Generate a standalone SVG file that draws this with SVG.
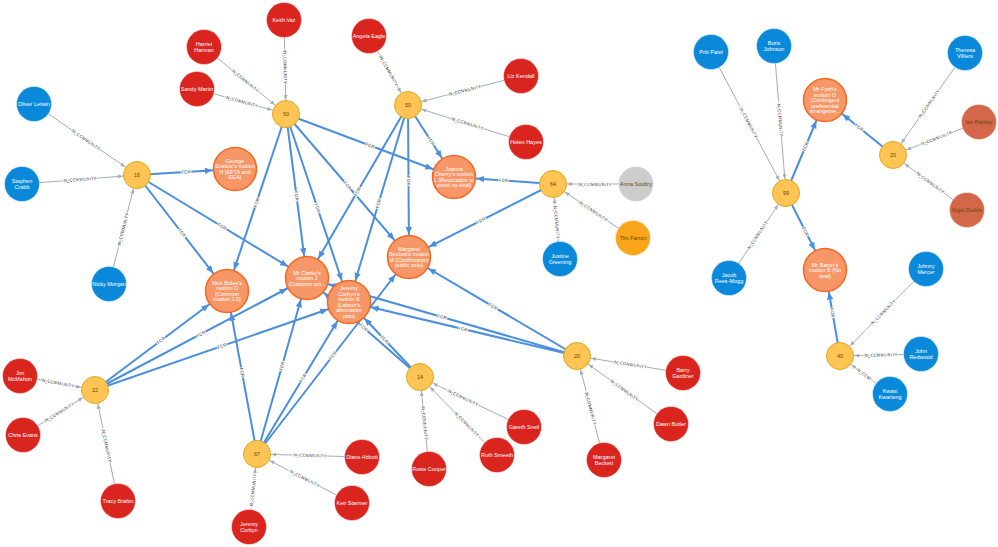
<svg xmlns="http://www.w3.org/2000/svg" xmlns:xlink="http://www.w3.org/1999/xlink" width="998" height="547" viewBox="0 0 998 547">
<style>
text{font-family:"Liberation Sans",Arial,sans-serif;}
.node text{font-size:5.5px;text-anchor:middle;fill:#fff;}
.node.dk text{fill:#604A0E;}
.red circle{fill:#DA251F;stroke:#fff;stroke-opacity:.4;stroke-width:1;}
.blue circle{fill:#0A88DA;stroke:#fff;stroke-opacity:.4;stroke-width:1;}
.lib circle{fill:#FAA61A;stroke:#fff;stroke-opacity:.4;stroke-width:1;}
.ind circle{fill:#CCCCCC;stroke:#fff;stroke-opacity:.4;stroke-width:1;}
.dup circle{fill:#D4674A;stroke:#fff;stroke-opacity:.4;stroke-width:1;}
.com circle{fill:#FFC454;stroke:#E0A91B;stroke-width:1;}
.mot circle{fill:#F79767;stroke:#F36924;stroke-width:1.5;}
.ic{stroke:#A5ABB6;stroke-width:1;fill:none;}
.fr{stroke:#4A8FDD;stroke-width:2;fill:none;}
.ic.s{marker-start:url(#aic);} .ic.e{marker-end:url(#aic);}
.fr.s{marker-start:url(#afr);} .fr.e{marker-end:url(#afr);}
.cap{font-size:4.4px;fill:#2A2C34;text-anchor:middle;stroke:#fff;stroke-width:1.8;paint-order:stroke;stroke-linejoin:round;}
</style>
<defs>
<marker id="aic" markerUnits="userSpaceOnUse" orient="auto-start-reverse" refX="19" refY="0" markerWidth="30" markerHeight="30" overflow="visible"><path d="M0,-2 L4.5,0 L0,2 Z" fill="#A5ABB6"/></marker>
<marker id="afr" markerUnits="userSpaceOnUse" orient="auto-start-reverse" refX="30" refY="0" markerWidth="40" markerHeight="40" overflow="visible"><path d="M0,-3.2 L7.5,0 L0,3.2 Z" fill="#4A8FDD"/></marker>
</defs>
<rect width="998" height="547" fill="#fff"/>
<g id="connectors">
<path id="c1" class="ic e" d="M34,104 L137,175"/>
<path id="c2" class="ic e" d="M22,184 L137,175"/>
<path id="c3" class="ic e" d="M109,284 L137,175"/>
<path id="c4" class="ic e" d="M204,47 L286,114"/>
<path id="c5" class="ic e" d="M197,89 L286,114"/>
<path id="c6" class="ic e" d="M284,20 L286,114"/>
<path id="c7" class="ic e" d="M369,36 L408,105"/>
<path id="c8" class="ic s" d="M408,105 L521,76"/>
<path id="c9" class="ic s" d="M408,105 L526,142"/>
<path id="c10" class="ic s" d="M553,184 L636,184"/>
<path id="c11" class="ic s" d="M553,184 L633,238"/>
<path id="c12" class="ic s" d="M553,184 L560,259"/>
<path id="c13" class="ic e" d="M711,52 L786,193"/>
<path id="c14" class="ic e" d="M774,46 L786,193"/>
<path id="c15" class="ic e" d="M729,278 L786,193"/>
<path id="c16" class="ic s" d="M893,155 L965,53"/>
<path id="c17" class="ic s" d="M893,155 L979,122"/>
<path id="c18" class="ic s" d="M893,155 L967,210"/>
<path id="c19" class="ic s" d="M840,356 L926,269"/>
<path id="c20" class="ic s" d="M840,356 L921,354"/>
<path id="c21" class="ic s" d="M840,356 L890,394"/>
<path id="c22" class="ic e" d="M20,376 L95,390"/>
<path id="c23" class="ic e" d="M23,435 L95,390"/>
<path id="c24" class="ic s" d="M95,390 L118,501"/>
<path id="c25" class="ic s" d="M257,454 L362,457"/>
<path id="c26" class="ic s" d="M257,454 L352,503"/>
<path id="c27" class="ic e" d="M249,527 L257,454"/>
<path id="c28" class="ic s" d="M420,377 L429,469"/>
<path id="c29" class="ic s" d="M420,377 L497,455"/>
<path id="c30" class="ic s" d="M420,377 L524,427"/>
<path id="c31" class="ic s" d="M577,356 L683,373"/>
<path id="c32" class="ic s" d="M577,356 L671,424"/>
<path id="c33" class="ic s" d="M577,356 L604,460"/>
<path id="f1" class="fr e" d="M137,175 L235,169"/>
<path id="f2" class="fr e" d="M137,175 L227,291"/>
<path id="f3" class="fr e" d="M137,175 L307,278"/>
<path id="f4" class="fr s" d="M227,291 L286,114"/>
<path id="f5" class="fr e" d="M286,114 L307,278"/>
<path id="f6" class="fr e" d="M286,114 L349,302"/>
<path id="f7" class="fr e" d="M286,114 L409,257"/>
<path id="f8" class="fr e" d="M286,114 L454,177"/>
<path id="f9" class="fr e" d="M408,105 L454,177"/>
<path id="f10" class="fr e" d="M408,105 L409,257"/>
<path id="f11" class="fr s" d="M307,278 L408,105"/>
<path id="f12" class="fr s" d="M349,302 L408,105"/>
<path id="f13" class="fr s" d="M454,177 L553,184"/>
<path id="f14" class="fr s" d="M409,257 L553,184"/>
<path id="f15" class="fr s" d="M307,278 L577,356"/>
<path id="f16" class="fr s" d="M349,302 L577,356"/>
<path id="f17" class="fr s" d="M409,257 L577,356"/>
<path id="f18" class="fr e" d="M95,390 L227,291"/>
<path id="f19" class="fr e" d="M95,390 L307,278"/>
<path id="f20" class="fr e" d="M95,390 L349,302"/>
<path id="f21" class="fr s" d="M227,291 L257,454"/>
<path id="f22" class="fr e" d="M257,454 L307,278"/>
<path id="f23" class="fr e" d="M257,454 L349,302"/>
<path id="f24" class="fr e" d="M257,454 L409,257"/>
<path id="f25" class="fr s" d="M307,278 L420,377"/>
<path id="f26" class="fr s" d="M349,302 L420,377"/>
<path id="f27" class="fr e" d="M786,193 L825,100"/>
<path id="f28" class="fr e" d="M786,193 L825,270"/>
<path id="f29" class="fr s" d="M825,100 L893,155"/>
<path id="f30" class="fr s" d="M825,270 L840,356"/>
<g class="caps">
<text class="cap" dy="1.5"><textPath href="#c1" startOffset="50%">IN_COMMUNITY</textPath></text>
<text class="cap" dy="1.5"><textPath href="#c2" startOffset="50%">IN_COMMUNITY</textPath></text>
<text class="cap" dy="1.5"><textPath href="#c3" startOffset="50%">IN_COMMUNITY</textPath></text>
<text class="cap" dy="1.5"><textPath href="#c4" startOffset="50%">IN_COMMUNITY</textPath></text>
<text class="cap" dy="1.5"><textPath href="#c5" startOffset="50%">IN_COMMUNITY</textPath></text>
<text class="cap" dy="1.5"><textPath href="#c6" startOffset="50%">IN_COMMUNITY</textPath></text>
<text class="cap" dy="1.5"><textPath href="#c7" startOffset="50%">IN_COMMUNITY</textPath></text>
<text class="cap" dy="1.5"><textPath href="#c8" startOffset="50%">IN_COMMUNITY</textPath></text>
<text class="cap" dy="1.5"><textPath href="#c9" startOffset="50%">IN_COMMUNITY</textPath></text>
<text class="cap" dy="1.5"><textPath href="#c10" startOffset="50%">IN_COMMUNITY</textPath></text>
<text class="cap" dy="1.5"><textPath href="#c11" startOffset="50%">IN_COMMUNITY</textPath></text>
<text class="cap" dy="1.5"><textPath href="#c12" startOffset="50%">IN_COMMUNITY</textPath></text>
<text class="cap" dy="1.5"><textPath href="#c13" startOffset="50%">IN_COMMUNITY</textPath></text>
<text class="cap" dy="1.5"><textPath href="#c14" startOffset="50%">IN_COMMUNITY</textPath></text>
<text class="cap" dy="1.5"><textPath href="#c15" startOffset="50%">IN_COMMUNITY</textPath></text>
<text class="cap" dy="1.5"><textPath href="#c16" startOffset="50%">IN_COMMUNITY</textPath></text>
<text class="cap" dy="1.5"><textPath href="#c17" startOffset="50%">IN_COMMUNITY</textPath></text>
<text class="cap" dy="1.5"><textPath href="#c18" startOffset="50%">IN_COMMUNITY</textPath></text>
<text class="cap" dy="1.5"><textPath href="#c19" startOffset="50%">IN_COMMUNITY</textPath></text>
<text class="cap" dy="1.5"><textPath href="#c20" startOffset="50%">IN_COMMUNITY</textPath></text>
<text class="cap" dy="1.5"><textPath href="#c21" startOffset="50%">IN_COM...</textPath></text>
<text class="cap" dy="1.5"><textPath href="#c22" startOffset="50%">IN_COMMUNITY</textPath></text>
<text class="cap" dy="1.5"><textPath href="#c23" startOffset="50%">IN_COMMUNITY</textPath></text>
<text class="cap" dy="1.5"><textPath href="#c24" startOffset="50%">IN_COMMUNITY</textPath></text>
<text class="cap" dy="1.5"><textPath href="#c25" startOffset="50%">IN_COMMUNITY</textPath></text>
<text class="cap" dy="1.5"><textPath href="#c26" startOffset="50%">IN_COMMUNITY</textPath></text>
<text class="cap" dy="1.5"><textPath href="#c27" startOffset="50%">IN_COMMUNITY</textPath></text>
<text class="cap" dy="1.5"><textPath href="#c28" startOffset="50%">IN_COMMUNITY</textPath></text>
<text class="cap" dy="1.5"><textPath href="#c29" startOffset="60%">IN_COMMUNITY</textPath></text>
<text class="cap" dy="1.5"><textPath href="#c30" startOffset="41%">IN_COMMUNITY</textPath></text>
<text class="cap" dy="1.5"><textPath href="#c31" startOffset="50%">IN_COMMUNITY</textPath></text>
<text class="cap" dy="1.5"><textPath href="#c32" startOffset="50%">IN_COMMUNITY</textPath></text>
<text class="cap" dy="1.5"><textPath href="#c33" startOffset="50%">IN_COMMUNITY</textPath></text>
<text class="cap" dy="1.5"><textPath href="#f1" startOffset="50%">FOR</textPath></text>
<text class="cap" dy="1.5"><textPath href="#f2" startOffset="50%">FOR</textPath></text>
<text class="cap" dy="1.5"><textPath href="#f3" startOffset="50%">FOR</textPath></text>
<text class="cap" dy="1.5"><textPath href="#f4" startOffset="50%">FOR</textPath></text>
<text class="cap" dy="1.5"><textPath href="#f5" startOffset="50%">FOR</textPath></text>
<text class="cap" dy="1.5"><textPath href="#f6" startOffset="50%">FOR</textPath></text>
<text class="cap" dy="1.5"><textPath href="#f7" startOffset="50%">FOR</textPath></text>
<text class="cap" dy="1.5"><textPath href="#f8" startOffset="50%">FOR</textPath></text>
<text class="cap" dy="1.5"><textPath href="#f9" startOffset="50%">FOR</textPath></text>
<text class="cap" dy="1.5"><textPath href="#f10" startOffset="50%">FOR</textPath></text>
<text class="cap" dy="1.5"><textPath href="#f11" startOffset="50%">FOR</textPath></text>
<text class="cap" dy="1.5"><textPath href="#f12" startOffset="50%">FOR</textPath></text>
<text class="cap" dy="1.5"><textPath href="#f13" startOffset="50%">FOR</textPath></text>
<text class="cap" dy="1.5"><textPath href="#f14" startOffset="50%">FOR</textPath></text>
<text class="cap" dy="1.5"><textPath href="#f15" startOffset="50%">FOR</textPath></text>
<text class="cap" dy="1.5"><textPath href="#f16" startOffset="50%">FOR</textPath></text>
<text class="cap" dy="1.5"><textPath href="#f17" startOffset="50%">FOR</textPath></text>
<text class="cap" dy="1.5"><textPath href="#f18" startOffset="50%">FOR</textPath></text>
<text class="cap" dy="1.5"><textPath href="#f19" startOffset="50%">FOR</textPath></text>
<text class="cap" dy="1.5"><textPath href="#f20" startOffset="50%">FOR</textPath></text>
<text class="cap" dy="1.5"><textPath href="#f21" startOffset="50%">FOR</textPath></text>
<text class="cap" dy="1.5"><textPath href="#f22" startOffset="50%">FOR</textPath></text>
<text class="cap" dy="1.5"><textPath href="#f23" startOffset="50%">FOR</textPath></text>
<text class="cap" dy="1.5"><textPath href="#f24" startOffset="50%">FOR</textPath></text>
<text class="cap" dy="1.5"><textPath href="#f25" startOffset="50%">FOR</textPath></text>
<text class="cap" dy="1.5"><textPath href="#f26" startOffset="50%">FOR</textPath></text>
<text class="cap" dy="1.5"><textPath href="#f27" startOffset="50%">FOR</textPath></text>
<text class="cap" dy="1.5"><textPath href="#f28" startOffset="50%">FOR</textPath></text>
<text class="cap" dy="1.5"><textPath href="#f29" startOffset="50%">FOR</textPath></text>
<text class="cap" dy="1.5"><textPath href="#f30" startOffset="50%">FOR</textPath></text>
</g>
</g>
<g id="nodes">
<g id="n-16" class="node com dk"><circle cx="137" cy="175" r="13.5"/><text x="137" y="177">16</text></g>
<g id="n-50a" class="node com dk"><circle cx="286" cy="114" r="13.5"/><text x="286" y="116">50</text></g>
<g id="n-50b" class="node com dk"><circle cx="408" cy="105" r="13.5"/><text x="408" y="107">50</text></g>
<g id="n-64" class="node com dk"><circle cx="553" cy="184" r="13.5"/><text x="553" y="186">64</text></g>
<g id="n-99" class="node com dk"><circle cx="786" cy="193" r="13.5"/><text x="786" y="195">99</text></g>
<g id="n-20a" class="node com dk"><circle cx="893" cy="155" r="13.5"/><text x="893" y="157">20</text></g>
<g id="n-40" class="node com dk"><circle cx="840" cy="356" r="13.5"/><text x="840" y="358">40</text></g>
<g id="n-22" class="node com dk"><circle cx="95" cy="390" r="13.5"/><text x="95" y="392">22</text></g>
<g id="n-67" class="node com dk"><circle cx="257" cy="454" r="13.5"/><text x="257" y="456">67</text></g>
<g id="n-14" class="node com dk"><circle cx="420" cy="377" r="13.5"/><text x="420" y="379">14</text></g>
<g id="n-20b" class="node com dk"><circle cx="577" cy="356" r="13.5"/><text x="577" y="358">20</text></g>

<g id="m-h" class="node mot"><circle cx="235" cy="169" r="21.5"/><text x="235" y="162.75"><tspan x="235">George</tspan><tspan x="235" dy="5.5">Eustice's motion</tspan><tspan x="235" dy="5.5">H (EFTA and</tspan><tspan x="235" dy="5.5">EEA)</tspan></text></g>
<g id="m-l" class="node mot"><circle cx="454" cy="177" r="21.5"/><text x="454" y="170.75"><tspan x="454">Joanna</tspan><tspan x="454" dy="5.5">Cherry's motion</tspan><tspan x="454" dy="5.5">L (Revocation to</tspan><tspan x="454" dy="5.5">avoid no deal)</tspan></text></g>
<g id="m-d" class="node mot"><circle cx="227" cy="291" r="21.5"/><text x="227" y="284.75"><tspan x="227">Nick Boles's</tspan><tspan x="227" dy="5.5">motion D</tspan><tspan x="227" dy="5.5">(Common</tspan><tspan x="227" dy="5.5">market 2.0)</tspan></text></g>
<g id="m-j" class="node mot"><circle cx="307" cy="278" r="21.5"/><text x="307" y="274.5"><tspan x="307">Mr Clarke's</tspan><tspan x="307" dy="5.5">motion J</tspan><tspan x="307" dy="5.5">(Customs uni...</tspan></text></g>
<g id="m-k" class="node mot"><circle cx="349" cy="302" r="21.5"/><text x="349" y="290.25"><tspan x="349">Jeremy</tspan><tspan x="349" dy="5.5">Corbyn's</tspan><tspan x="349" dy="5.5">motion K</tspan><tspan x="349" dy="5.5">(Labour's</tspan><tspan x="349" dy="5.5">alternative</tspan><tspan x="349" dy="5.5">plan)</tspan></text></g>
<g id="m-m" class="node mot"><circle cx="409" cy="257" r="21.5"/><text x="409" y="250.75"><tspan x="409">Margaret</tspan><tspan x="409" dy="5.5">Beckett's motion</tspan><tspan x="409" dy="5.5">M (Confirmatory</tspan><tspan x="409" dy="5.5">public vote)</tspan></text></g>
<g id="m-o" class="node mot"><circle cx="825" cy="100" r="21.5"/><text x="825" y="91"><tspan x="825">Mr Fysh's</tspan><tspan x="825" dy="5.5">motion O</tspan><tspan x="825" dy="5.5">(Contingent</tspan><tspan x="825" dy="5.5">preferential</tspan><tspan x="825" dy="5.5">arrangeme...</tspan></text></g>
<g id="m-b" class="node mot"><circle cx="825" cy="270" r="21.5"/><text x="825" y="266.5"><tspan x="825">Mr Baron's</tspan><tspan x="825" dy="5.5">motion B (No</tspan><tspan x="825" dy="5.5">deal)</tspan></text></g>

<g id="p-oliver-letwin" class="node blue"><circle cx="34" cy="104" r="17.5"/><text x="34" y="106">Oliver Letwin</text></g>
<g id="p-stephen-crabb" class="node blue"><circle cx="22" cy="184" r="17.5"/><text x="22" y="183.25"><tspan x="22">Stephen</tspan><tspan x="22" dy="5.5">Crabb</tspan></text></g>
<g id="p-nicky-morgan" class="node blue"><circle cx="109" cy="284" r="17.5"/><text x="109" y="286">Nicky Morgan</text></g>
<g id="p-harriet-harman" class="node red"><circle cx="204" cy="47" r="17.5"/><text x="204" y="46.25"><tspan x="204">Harriet</tspan><tspan x="204" dy="5.5">Harman</tspan></text></g>
<g id="p-sandy-martin" class="node red"><circle cx="197" cy="89" r="17.5"/><text x="197" y="91">Sandy Martin</text></g>
<g id="p-keith-vaz" class="node red"><circle cx="284" cy="20" r="17.5"/><text x="284" y="22">Keith Vaz</text></g>
<g id="p-angela-eagle" class="node red"><circle cx="369" cy="36" r="17.5"/><text x="369" y="38">Angela Eagle</text></g>
<g id="p-liz-kendall" class="node red"><circle cx="521" cy="76" r="17.5"/><text x="521" y="78">Liz Kendall</text></g>
<g id="p-helen-hayes" class="node red"><circle cx="526" cy="142" r="17.5"/><text x="526" y="144">Helen Hayes</text></g>
<g id="p-anna-soubry" class="node ind dk"><circle cx="636" cy="184" r="17.5"/><text x="636" y="186">Anna Soubry</text></g>
<g id="p-tim-farron" class="node lib dk"><circle cx="633" cy="238" r="17.5"/><text x="633" y="240">Tim Farron</text></g>
<g id="p-justine-greening" class="node blue"><circle cx="560" cy="259" r="17.5"/><text x="560" y="258.25"><tspan x="560">Justine</tspan><tspan x="560" dy="5.5">Greening</tspan></text></g>
<g id="p-priti-patel" class="node blue"><circle cx="711" cy="52" r="17.5"/><text x="711" y="54">Priti Patel</text></g>
<g id="p-boris-johnson" class="node blue"><circle cx="774" cy="46" r="17.5"/><text x="774" y="45.25"><tspan x="774">Boris</tspan><tspan x="774" dy="5.5">Johnson</tspan></text></g>
<g id="p-jacob-rees-mogg" class="node blue"><circle cx="729" cy="278" r="17.5"/><text x="729" y="277.25"><tspan x="729">Jacob</tspan><tspan x="729" dy="5.5">Rees-Mogg</tspan></text></g>
<g id="p-theresa-villiers" class="node blue"><circle cx="965" cy="53" r="17.5"/><text x="965" y="52.25"><tspan x="965">Theresa</tspan><tspan x="965" dy="5.5">Villiers</tspan></text></g>
<g id="p-ian-paisley" class="node dup dk"><circle cx="979" cy="122" r="17.5"/><text x="979" y="124">Ian Paisley</text></g>
<g id="p-nigel-dodds" class="node dup dk"><circle cx="967" cy="210" r="17.5"/><text x="967" y="212">Nigel Dodds</text></g>
<g id="p-johnny-mercer" class="node blue"><circle cx="926" cy="269" r="17.5"/><text x="926" y="268.25"><tspan x="926">Johnny</tspan><tspan x="926" dy="5.5">Mercer</tspan></text></g>
<g id="p-john-redwood" class="node blue"><circle cx="921" cy="354" r="17.5"/><text x="921" y="353.25"><tspan x="921">John</tspan><tspan x="921" dy="5.5">Redwood</tspan></text></g>
<g id="p-kwasi-kwarteng" class="node blue"><circle cx="890" cy="394" r="17.5"/><text x="890" y="393.25"><tspan x="890">Kwasi</tspan><tspan x="890" dy="5.5">Kwarteng</tspan></text></g>
<g id="p-jim-mcmahon" class="node red"><circle cx="20" cy="376" r="17.5"/><text x="20" y="375.25"><tspan x="20">Jim</tspan><tspan x="20" dy="5.5">McMahon</tspan></text></g>
<g id="p-chris-evans" class="node red"><circle cx="23" cy="435" r="17.5"/><text x="23" y="437">Chris Evans</text></g>
<g id="p-tracy-brabin" class="node red"><circle cx="118" cy="501" r="17.5"/><text x="118" y="503">Tracy Brabin</text></g>
<g id="p-diane-abbott" class="node red"><circle cx="362" cy="457" r="17.5"/><text x="362" y="459">Diane Abbott</text></g>
<g id="p-keir-starmer" class="node red"><circle cx="352" cy="503" r="17.5"/><text x="352" y="505">Keir Starmer</text></g>
<g id="p-jeremy-corbyn" class="node red"><circle cx="249" cy="527" r="17.5"/><text x="249" y="526.25"><tspan x="249">Jeremy</tspan><tspan x="249" dy="5.5">Corbyn</tspan></text></g>
<g id="p-rosie-cooper" class="node red"><circle cx="429" cy="469" r="17.5"/><text x="429" y="471">Rosie Cooper</text></g>
<g id="p-ruth-smeeth" class="node red"><circle cx="497" cy="455" r="17.5"/><text x="497" y="457">Ruth Smeeth</text></g>
<g id="p-gareth-snell" class="node red"><circle cx="524" cy="427" r="17.5"/><text x="524" y="429">Gareth Snell</text></g>
<g id="p-barry-gardiner" class="node red"><circle cx="683" cy="373" r="17.5"/><text x="683" y="372.25"><tspan x="683">Barry</tspan><tspan x="683" dy="5.5">Gardiner</tspan></text></g>
<g id="p-dawn-butler" class="node red"><circle cx="671" cy="424" r="17.5"/><text x="671" y="426">Dawn Butler</text></g>
<g id="p-margaret-beckett" class="node red"><circle cx="604" cy="460" r="17.5"/><text x="604" y="459.25"><tspan x="604">Margaret</tspan><tspan x="604" dy="5.5">Beckett</tspan></text></g>
</g>
</svg>
